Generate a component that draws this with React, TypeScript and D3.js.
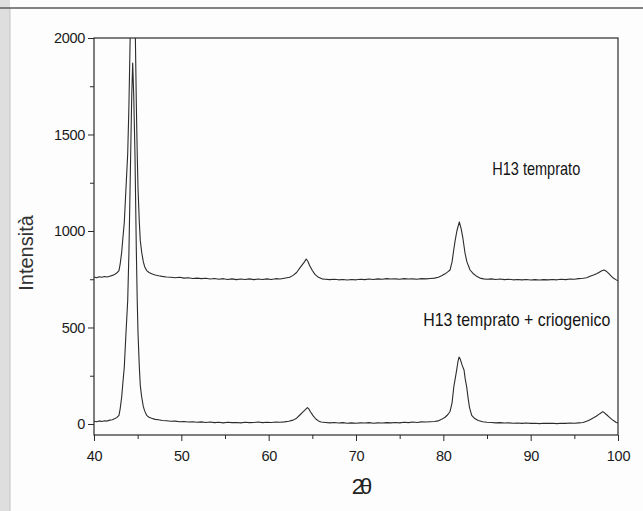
import React, { useEffect, useRef } from "react";
import * as d3 from "d3";

// 2θ / intensity pairs
const temprato: [number, number][] = [
  [40.0, 762], [40.3, 758], [40.6, 763], [40.9, 760], [41.2, 764], [41.5, 762], [41.8, 766],
  [42.1, 770], [42.4, 776], [42.6, 782], [42.86, 795], [43.0, 830], [43.17, 890], [43.3, 960],
  [43.47, 1045], [43.66, 1220], [43.86, 1400], [44.0, 1650], [44.2, 2150], [44.32, 2450],
  [44.43, 2620], [44.55, 2450], [44.69, 2150], [44.85, 1650], [44.95, 1400], [45.04, 1220],
  [45.19, 1045], [45.3, 950], [45.46, 890], [45.65, 840], [45.8, 815], [46.03, 795], [46.3, 785],
  [46.6, 778], [47.0, 772], [47.4, 768], [47.8, 765], [48.3, 762], [48.8, 760], [49.3, 758],
  [49.8, 760], [50.3, 756], [50.8, 758], [51.3, 754], [51.8, 756], [52.3, 753], [52.8, 755],
  [53.3, 751], [53.8, 754], [54.3, 750], [54.8, 753], [55.3, 749], [55.8, 752], [56.3, 748],
  [56.8, 751], [57.3, 749], [57.8, 752], [58.3, 748], [58.8, 751], [59.3, 749], [59.8, 752],
  [60.3, 749], [60.8, 753], [61.3, 751], [61.8, 755], [62.4, 760], [62.8, 770], [63.2, 785],
  [63.6, 810], [63.9, 828], [64.1, 840], [64.3, 855], [64.5, 842], [64.7, 820], [65.0, 795],
  [65.3, 775], [65.7, 760], [66.1, 752], [66.5, 750], [67.0, 748], [67.5, 750], [68.0, 747],
  [68.5, 749], [69.0, 746], [69.5, 749], [70.0, 747], [70.5, 750], [71.0, 748], [71.5, 751],
  [72.0, 749], [72.5, 752], [73.0, 750], [73.5, 753], [74.0, 751], [74.5, 752], [75.0, 750],
  [75.5, 753], [76.0, 751], [76.5, 752], [77.0, 750], [77.5, 753], [78.0, 752], [78.5, 754],
  [79.0, 756], [79.43, 760], [79.8, 768], [80.2, 778], [80.5, 788], [80.77, 798], [81.0, 840],
  [81.14, 886], [81.35, 950], [81.55, 1000], [81.83, 1047], [82.05, 1010], [82.25, 960],
  [82.48, 886], [82.7, 840], [83.06, 798], [83.4, 780], [83.8, 766], [84.2, 756], [84.6, 752],
  [85.0, 750], [85.5, 752], [86.0, 749], [86.5, 751], [87.0, 748], [87.5, 750], [88.0, 747],
  [88.5, 749], [89.0, 747], [89.5, 749], [90.0, 746], [90.5, 748], [91.0, 746], [91.5, 748],
  [92.0, 747], [92.5, 749], [93.0, 747], [93.5, 750], [94.0, 748], [94.5, 751], [95.0, 750],
  [95.5, 753], [96.0, 755], [96.4, 758], [96.8, 765], [97.2, 772], [97.6, 780], [97.9, 788],
  [98.15, 794], [98.4, 798], [98.65, 792], [98.9, 782], [99.2, 768], [99.5, 755], [99.75, 748],
  [100.0, 742],
];

const criogenico: [number, number][] = [
  [40.0, 14], [40.3, 12], [40.6, 16], [40.9, 13], [41.2, 17], [41.5, 15], [41.8, 20], [42.1, 22],
  [42.4, 28], [42.6, 33], [42.86, 45], [43.0, 80], [43.17, 140], [43.3, 210], [43.47, 295],
  [43.66, 470], [43.86, 640], [44.0, 890], [44.2, 1400], [44.32, 1700], [44.43, 1870],
  [44.55, 1700], [44.69, 1400], [44.85, 890], [44.95, 640], [45.04, 470], [45.19, 295],
  [45.3, 200], [45.46, 140], [45.65, 90], [45.8, 68], [46.03, 45], [46.3, 35], [46.6, 30],
  [47.0, 24], [47.4, 22], [47.8, 18], [48.3, 17], [48.8, 14], [49.3, 15], [49.8, 12], [50.3, 13],
  [50.8, 10], [51.3, 12], [51.8, 9], [52.3, 11], [52.8, 8], [53.3, 10], [53.8, 7], [54.3, 9],
  [54.8, 6], [55.3, 9], [55.8, 7], [56.3, 8], [56.8, 6], [57.3, 9], [57.8, 7], [58.3, 8],
  [58.8, 10], [59.3, 7], [59.8, 9], [60.3, 8], [60.8, 10], [61.3, 9], [61.8, 11], [62.3, 14],
  [62.8, 20], [63.2, 30], [63.6, 48], [63.9, 62], [64.2, 75], [64.43, 85], [64.6, 78],
  [64.8, 62], [65.1, 42], [65.4, 26], [65.7, 16], [66.0, 10], [66.5, 8], [67.0, 6], [67.5, 8],
  [68.0, 5], [68.5, 7], [69.0, 4], [69.5, 6], [70.0, 4], [70.5, 6], [71.0, 5], [71.5, 7],
  [72.0, 4], [72.5, 6], [73.0, 5], [73.5, 7], [74.0, 6], [74.5, 8], [75.0, 6], [75.5, 9],
  [76.0, 7], [76.5, 10], [77.0, 8], [77.5, 11], [78.0, 10], [78.5, 12], [79.0, 13], [79.4, 16],
  [79.8, 24], [80.2, 35], [80.5, 48], [80.77, 65], [81.0, 110], [81.2, 193], [81.38, 240],
  [81.53, 280], [81.68, 325], [81.8, 347], [81.95, 335], [82.15, 305], [82.37, 280],
  [82.5, 235], [82.67, 193], [82.85, 130], [83.0, 85], [83.25, 45], [83.6, 28], [84.0, 18],
  [84.5, 12], [85.0, 9], [85.5, 8], [86.0, 6], [86.5, 7], [87.0, 5], [87.5, 6], [88.0, 4],
  [88.5, 5], [89.0, 3], [89.5, 5], [90.0, 3], [90.5, 4], [91.0, 2], [91.5, 4], [92.0, 3],
  [92.5, 4], [93.0, 2], [93.5, 4], [94.0, 3], [94.5, 5], [95.0, 4], [95.5, 6], [96.0, 8],
  [96.4, 14], [96.8, 22], [97.2, 32], [97.5, 40], [97.8, 50], [98.0, 56], [98.25, 64],
  [98.45, 58], [98.7, 48], [99.0, 36], [99.3, 24], [99.6, 14], [99.8, 8], [100.0, 5],
];

const xMajor = [40, 50, 60, 70, 80, 90, 100];
const xMinor = [45, 55, 65, 75, 85, 95];
const yMajor = [0, 500, 1000, 1500, 2000];
const yMinor = [250, 750, 1250, 1750];

const labels = [
  { text: "H13 temprato", x: 85.6, y: 1290, len: 88 },
  { text: "H13 temprato + criogenico", x: 77.7, y: 508, len: 187 },
];

const W = 643;
const H = 511;
const FONT = "'Liberation Sans', Arial, sans-serif";

const XrdChart = () => {
  const ref = useRef<SVGSVGElement>(null);

  useEffect(() => {
    const svg = d3.select(ref.current);
    svg.selectAll("*").remove();

    const left = 94, right = 618, top = 38, bottom = 435;
    const x = d3.scaleLinear().domain([40, 100]).range([left, right]);
    const y = d3.scaleLinear().domain([-57, 2000]).range([bottom, top]);

    // scanned-page decorations
    svg.append("rect").attr("width", W).attr("height", H).attr("fill", "#fdfdfd");
    svg.append("rect").attr("x", 0).attr("y", 0).attr("width", 10).attr("height", H).attr("fill", "#dedede");
    svg.append("line").attr("x1", 10).attr("x2", 10).attr("y1", 8).attr("y2", H).attr("stroke", "#c4c4c4");
    svg.append("line").attr("x1", 0).attr("x2", W).attr("y1", 8).attr("y2", 8).attr("stroke", "#5a5a5a").attr("stroke-width", 1.5);

    svg.append("clipPath").attr("id", "plot-clip")
      .append("rect").attr("x", left).attr("y", top).attr("width", right - left).attr("height", bottom - top);

    const line = d3.line<[number, number]>()
      .x((d) => x(d[0]))
      .y((d) => y(d[1]));

    const g = svg.append("g").attr("clip-path", "url(#plot-clip)");
    [temprato, criogenico].forEach((series) => {
      g.append("path")
        .attr("d", line(series))
        .attr("fill", "none")
        .attr("stroke", "#2b2b2b")
        .attr("stroke-width", 1.1)
        .attr("stroke-linejoin", "round");
    });

    // frame
    svg.append("rect")
      .attr("x", left).attr("y", top)
      .attr("width", right - left).attr("height", bottom - top)
      .attr("fill", "none").attr("stroke", "#2a2a2a").attr("stroke-width", 1.2);

    svg.append("g").attr("transform", `translate(0,${bottom})`)
      .call(d3.axisBottom(x).tickValues(xMajor).tickSize(6).tickPadding(10).tickFormat(d3.format("d")));
    svg.append("g").attr("transform", `translate(0,${bottom})`)
      .call(d3.axisBottom(x).tickValues(xMinor).tickSize(4).tickFormat(() => ""));

    svg.append("g").attr("transform", `translate(${left},0)`)
      .call(d3.axisLeft(y).tickValues(yMajor).tickSize(6).tickPadding(3).tickFormat(d3.format("d")));
    svg.append("g").attr("transform", `translate(${left},0)`)
      .call(d3.axisLeft(y).tickValues(yMinor).tickSize(4).tickFormat(() => ""));

    svg.selectAll(".domain").remove();
    svg.selectAll(".tick line").attr("stroke", "#2a2a2a");
    svg.selectAll(".tick text")
      .attr("font-family", FONT)
      .attr("font-size", 14.5)
      .attr("letter-spacing", -0.3)
      .attr("fill", "#1a1a1a");

    labels.forEach((l) => {
      svg.append("text")
        .attr("x", x(l.x))
        .attr("y", y(l.y))
        .attr("font-family", FONT)
        .attr("font-size", 18.5)
        .attr("textLength", l.len)
        .attr("lengthAdjust", "spacingAndGlyphs")
        .attr("fill", "#151515")
        .text(l.text);
    });

    svg.append("text")
      .attr("transform", `translate(33,253) rotate(-90)`)
      .attr("text-anchor", "middle")
      .attr("font-family", FONT)
      .attr("font-size", 20)
      .attr("fill", "#333")
      .text("Intensità");

    svg.append("text")
      .attr("x", 360)
      .attr("y", 494)
      .attr("text-anchor", "middle")
      .attr("font-family", FONT)
      .attr("font-size", 22)
      .attr("letter-spacing", -4)
      .attr("fill", "#222")
      .text("2θ");
  }, []);

  return <svg ref={ref} width={W} height={H} style={{ position: "absolute", left: 0, top: 0 }} />;
};

export default function App() {
  return <XrdChart />;
}
